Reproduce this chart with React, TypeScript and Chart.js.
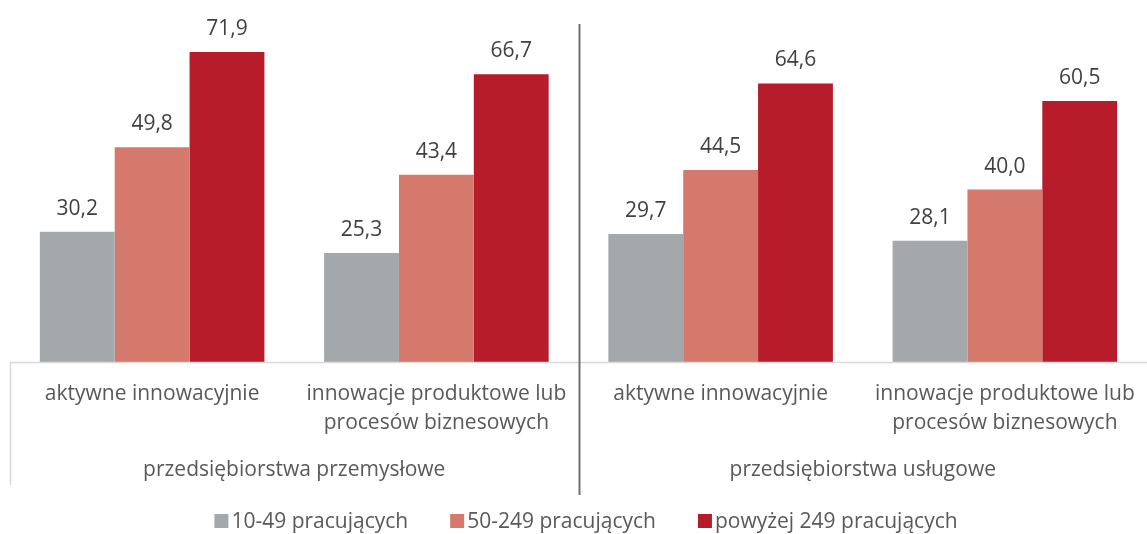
import React, { useEffect, useRef } from "react";
import { Chart, registerables } from "chart.js";

Chart.register(...registerables);

const categories: string[][] = [
  ["aktywne innowacyjnie"],
  ["innowacje produktowe lub", "procesów biznesowych"],
  ["aktywne innowacyjnie"],
  ["innowacje produktowe lub", "procesów biznesowych"],
];
const groups = ["przedsiębiorstwa przemysłowe", "przedsiębiorstwa usługowe"];
const seriesNames = ["10-49 pracujących", "50-249 pracujących", "powyżej 249 pracujących"];
const small = [30.2, 25.3, 29.7, 28.1];
const medium = [49.8, 43.4, 44.5, 40.0];
const large = [71.9, 66.7, 64.6, 60.5];
const colors = ["#a5a8ab", "#d4796b", "#b71c2b"];

const FONT = "'Open Sans', sans-serif";
const FS = 21;
const TEXT = "#595959";

const decorPlugin = {
  id: "decor",
  afterDatasetsDraw(chart: any) {
    const ctx = chart.ctx;
    const { left, right, bottom } = chart.chartArea;
    const xs = chart.scales.x;
    ctx.save();
    // axis line
    ctx.strokeStyle = "#d9d9d9";
    ctx.lineWidth = 1.5;
    ctx.beginPath();
    ctx.moveTo(left, bottom + 0.5);
    ctx.lineTo(right, bottom + 0.5);
    ctx.moveTo(left + 0.5, bottom);
    ctx.lineTo(left + 0.5, bottom + 123);
    ctx.stroke();
    // divider
    const mid = (xs.getPixelForValue(1) + xs.getPixelForValue(2)) / 2;
    ctx.strokeStyle = "#6d7072";
    ctx.lineWidth = 2;
    ctx.beginPath();
    ctx.moveTo(mid + 1, 24);
    ctx.lineTo(mid + 1, 495);
    ctx.stroke();

    // value labels
    ctx.fillStyle = "#404040";
    ctx.font = `${FS}px ${FONT}`;
    ctx.textAlign = "center";
    ctx.textBaseline = "alphabetic";
    chart.data.datasets.forEach((ds: any, di: number) => {
      const meta = chart.getDatasetMeta(di);
      meta.data.forEach((bar: any, i: number) => {
        const v = ds.data[i] as number;
        ctx.fillText(v.toFixed(1).replace(".", ","), bar.x, bar.y - 17);
      });
    });

    // category labels
    ctx.fillStyle = TEXT;
    ctx.font = `${FS}px ${FONT}`;
    categories.forEach((lines, i) => {
      const x = xs.getPixelForValue(i);
      lines.forEach((ln, j) => {
        ctx.fillText(ln, x, bottom + 38 + j * 29);
      });
    });
    // group labels
    groups.forEach((g, gi) => {
      const x = (xs.getPixelForValue(gi * 2) + xs.getPixelForValue(gi * 2 + 1)) / 2;
      ctx.fillText(g, x, bottom + 114);
    });

    // legend
    ctx.font = `21px ${FONT}`;
    ctx.textAlign = "left";
    ctx.textBaseline = "middle";
    const box = 14, gapText = 3, gapItem = 42;
    const items = chart.data.datasets.map((ds: any) => ({
      label: ds.label as string,
      color: ds.backgroundColor as string,
      w: box + gapText + ctx.measureText(ds.label).width,
    }));
    const total = items.reduce((s: number, it: any) => s + it.w, 0) + gapItem * (items.length - 1);
    let x = 586 - total / 2;
    const cy = 521;
    items.forEach((it: any) => {
      ctx.fillStyle = it.color;
      ctx.fillRect(x, cy - box / 2, box, box);
      ctx.fillStyle = TEXT;
      ctx.fillText(it.label, x + box + gapText, cy + 1);
      x += it.w + gapItem;
    });
    ctx.restore();
  },
};

export default function App() {
  const ref = useRef<HTMLCanvasElement | null>(null);
  useEffect(() => {
    document.body.style.margin = "0";
    if (!ref.current) return;
    const chart = new Chart(ref.current, {
      type: "bar",
      data: {
        labels: categories.map((c) => c.join(" ")),
        datasets: [
          { label: seriesNames[0], data: small, backgroundColor: colors[0] },
          { label: seriesNames[1], data: medium, backgroundColor: colors[1] },
          { label: seriesNames[2], data: large, backgroundColor: colors[2] },
        ],
      },
      options: {
        responsive: false,
        animation: false,
        layout: { padding: { left: 10, right: 0, top: 17, bottom: 0 } },
        datasets: { bar: { categoryPercentage: 0.79, barPercentage: 1 } } as any,
        scales: {
          x: {
            display: true,
            ticks: { display: false },
            grid: { display: false },
            border: { display: false },
            afterFit: (scale: any) => {
              scale.height = 172;
            },
          },
          y: { display: false, min: 0, max: 80 },
        },
        plugins: {
          legend: { display: false },
          tooltip: { enabled: false },
        },
      },
      plugins: [decorPlugin],
    });
    return () => chart.destroy();
  }, []);
  return (
    <div style={{ width: 1147, height: 534 }}>
      <canvas ref={ref} width={1147} height={534} />
    </div>
  );
}
